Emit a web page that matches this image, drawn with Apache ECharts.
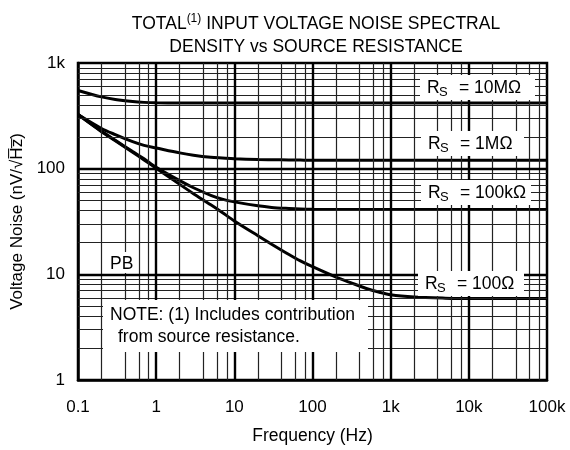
<!DOCTYPE html>
<html><head><meta charset="utf-8">
<script src="https://cdn.jsdelivr.net/npm/echarts@6/dist/echarts.min.js"></script>
<style>html,body{margin:0;padding:0;background:#fff}#c{width:570px;height:450px}</style>
</head><body><div id="c"></div>
<script>
var freq = [0.1,0.2,0.3,0.5,0.7,1,2,3,5,7,10,20,30,50,70,100,200,300,500,700,1000,2000,5000,10000,100000];
var rs10M = [550,478,452,432,424,420,418,418,418,418,418,418,418,418,418,418,418,418,418,418,418,418,418,418,418];
var rs1M = [325,240,210,180,166,157,141,134,128,126,124,122,121.5,121,120.5,120,120,120,120,120,120,120,120,120,120];
var rs100k = [325,226,186,145,124,103,77,66,56,51.5,48.5,44.5,43,42,41.5,41.2,41,41,41,41,41,41,41,41,41];
var rs100 = [325,224,184,143,121,101,71,58,45.5,38.5,32,23.2,19.3,15.4,13.4,11.8,9.4,8.4,7.3,6.8,6.4,6.1,5.95,5.9,5.9];
var seriesNames = ['R_S = 10MΩ','R_S = 1MΩ','R_S = 100kΩ','R_S = 100Ω'];
var labelValues = ['= 10MΩ','= 1MΩ','= 100kΩ','= 100Ω'];
var xTickValues = [0.1,1,10,100,1000,10000,100000];
var xTickLabels = ['0.1','1','10','100','1k','10k','100k'];
var yTickValues = [1,10,100,1000];
var yTickLabels = ['1','10','100','1k'];
var xMinorMult = [2,4,6,8];
var yMinorMult = [2,3,4,5,6,7,8,9];

function lbl(vals, labs){ return function(v){ for(var i=0;i<vals.length;i++){ if(Math.abs(Math.log10(v)-Math.log10(vals[i]))<1e-6) return labs[i]; } return ''; }; }

var gridLines = [];
xTickValues.slice(0,-1).forEach(function(d){ xMinorMult.forEach(function(m){ gridLines.push({xAxis:d*m, lineStyle:{width:1.2,color:'#222',type:'solid'}}); }); });
yTickValues.slice(0,-1).forEach(function(d){ yMinorMult.forEach(function(m){ gridLines.push({yAxis:d*m, lineStyle:{width:1.2,color:'#222',type:'solid'}}); }); });
xTickValues.slice(1,-1).forEach(function(d){ gridLines.push({xAxis:d, lineStyle:{width:2.4,color:'#000',type:'solid'}}); });
yTickValues.slice(1,-1).forEach(function(d){ gridLines.push({yAxis:d, lineStyle:{width:2.4,color:'#000',type:'solid'}}); });

function pairs(vals){ return freq.map(function(f,i){ return [f, vals[i]]; }); }
var allVals = [rs10M, rs1M, rs100k, rs100];

var series = [{
  type:'line', data:[], silent:true, z:1,
  markLine:{silent:true, symbol:'none', label:{show:false}, animation:false,
    lineStyle:{type:'solid'}, data:gridLines}
}];
allVals.forEach(function(v,i){
  series.push({name:seriesNames[i], type:'line', data:pairs(v), smooth:0.3, symbol:'none', z:3,
    lineStyle:{color:'#000', width:3}, animation:false});
});

var font = 'Liberation Sans, Arial, sans-serif';
var fs = 17.5;
function rsLabel(x, y, w, h, val){
  return {type:'group', left:x, top:y, z:100, children:[
    {type:'rect', z:100, shape:{x:0,y:0,width:w,height:h}, style:{fill:'#fff'}},
    {type:'text', z:101, x:7, y:4, style:{text:'R', font:fs+'px '+font, fill:'#000'}},
    {type:'text', z:101, x:19, y:11, style:{text:'S', font:'13px '+font, fill:'#000'}},
    {type:'text', z:101, x:39, y:4, style:{text:val, font:fs+'px '+font, fill:'#000'}}
  ]};
}

var chart = echarts.init(document.getElementById('c'));
chart.setOption({
  animation:false,
  backgroundColor:'#fff',
  title:{
    left:311, top:8, textAlign:'center',
    text:'{a|TOTAL}{s|(1)}{a| INPUT VOLTAGE NOISE SPECTRAL}\n{a|DENSITY vs SOURCE RESISTANCE}',
    textStyle:{fontWeight:'normal', rich:{
      a:{fontSize:fs, fontFamily:font, fontWeight:'normal', color:'#000', lineHeight:23},
      s:{fontSize:12, fontFamily:font, fontWeight:'normal', color:'#000', verticalAlign:'top', lineHeight:23, padding:[0,0,8,0]}
    }}
  },
  grid:{left:78, right:23, top:63, bottom:68, show:true, borderColor:'#000', borderWidth:2.5, z:5},
  xAxis:{type:'log', logBase:10, min:0.1, max:100000, splitNumber:6,
    name:'Frequency (Hz)', nameLocation:'middle', nameGap:47,
    nameTextStyle:{fontSize:fs, fontFamily:font, color:'#000'},
    axisLine:{show:true, lineStyle:{color:'#000', width:2.5}},
    axisTick:{show:false}, splitLine:{show:false}, minorSplitLine:{show:false},
    axisLabel:{fontSize:17, fontFamily:font, color:'#000', margin:19, formatter:lbl(xTickValues,xTickLabels), showMinLabel:true, showMaxLabel:true}
  },
  yAxis:{type:'log', logBase:10, min:1, max:1000, splitNumber:3,
    name:'Voltage Noise (nV/√H\u0305z\u0305)', nameLocation:'middle', nameGap:52, nameRotate:90,
    nameTextStyle:{fontSize:17, fontFamily:font, color:'#000'},
    axisLine:{show:true, lineStyle:{color:'#000', width:2.5}},
    axisTick:{show:false}, splitLine:{show:false},
    axisLabel:{fontSize:17, fontFamily:font, color:'#000', margin:13, formatter:lbl(yTickValues,yTickLabels)}
  },
  series:series,
  graphic:[
    rsLabel(420, 75, 115, 25, labelValues[0]),
    rsLabel(421, 131, 103, 25, labelValues[1]),
    rsLabel(421, 180, 110, 25, labelValues[2]),
    rsLabel(418, 271, 106, 25, labelValues[3]),
    {type:'group', left:107, top:252, z:100, children:[
      {type:'rect', z:100, shape:{x:0,y:0,width:29,height:21}, style:{fill:'#fff'}},
      {type:'text', z:101, x:3, y:3, style:{text:'PB', font:fs+'px '+font, fill:'#000'}}
    ]},
    {type:'group', left:103, top:300, z:100, children:[
      {type:'rect', z:100, shape:{x:0,y:0,width:265,height:52}, style:{fill:'#fff'}},
      {type:'text', z:101, x:7, y:6, style:{text:'NOTE: (1) Includes contribution', font:fs+'px '+font, fill:'#000'}},
      {type:'text', z:101, x:15, y:28, style:{text:'from source resistance.', font:fs+'px '+font, fill:'#000'}}
    ]}
  ]
});
</script></body></html>
